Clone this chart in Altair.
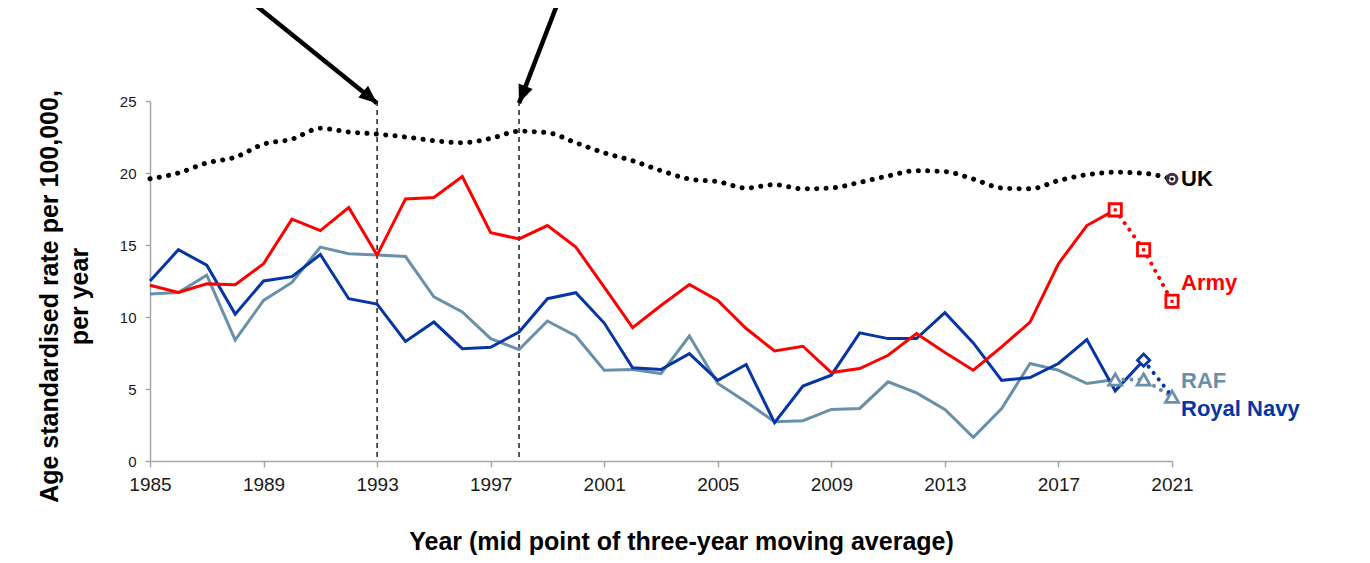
import altair as alt
import pandas as pd

# ---------------- data ----------------
years = list(range(1985, 2022))

army = [12.2, 11.7, 12.3, 12.24, 13.7, 16.8, 16.0, 17.6, 14.3, 18.2, 18.3, 19.75, 15.85,
        15.43, 16.35, 14.85, 12.08, 9.26, 10.8, 12.26, 11.15, 9.2, 7.64, 7.97, 6.14,
        6.42, 7.34, 8.85, 7.53, 6.3, 7.92, 9.65, 13.7, 16.35, 17.44, 14.67, 11.09]

navy = [12.5, 14.67, 13.6, 10.2, 12.5, 12.8, 14.34, 11.27, 10.9, 8.3, 9.65, 7.8, 7.9,
        8.96, 11.27, 11.69, 9.58, 6.47, 6.35, 7.46, 5.6, 6.7, 2.66, 5.2, 5.96,
        8.9, 8.5, 8.5, 10.3, 8.2, 5.6, 5.8, 6.77, 8.43, 4.87, 7.0, 4.5]

raf = [11.6, 11.7, 12.9, 8.4, 11.15, 12.4, 14.85, 14.4, 14.3, 14.2, 11.4, 10.35, 8.5,
       7.74, 9.72, 8.68, 6.3, 6.35, 6.07, 8.68, 5.38, 4.1, 2.73, 2.8, 3.58,
       3.65, 5.5, 4.73, 3.58, 1.64, 3.65, 6.77, 6.3, 5.38, 5.66, 5.66, 4.46]

uk = [19.6, 20.0, 20.7, 21.1, 22.0, 22.35, 23.1, 22.85, 22.7, 22.5, 22.25, 22.1, 22.4,
      22.9, 22.8, 22.1, 21.4, 20.85, 20.16, 19.58, 19.4, 18.96, 19.19, 18.9, 18.96,
      19.35, 19.8, 20.16, 20.1, 19.58, 18.96, 18.9, 19.47, 19.88, 20.05, 19.98, 19.58]

series_order = ["RAF", "Royal Navy", "Army"]
series_values = {"Army": army, "Royal Navy": navy, "RAF": raf}
series_colors = {"Army": "#ff0000", "Royal Navy": "#0636a6", "RAF": "#6990aa", "UK": "#000000"}
solid_end = {"Army": 2019, "Royal Navy": 2020, "RAF": 2019}
marker_years = {"Army": [2019, 2020, 2021], "Royal Navy": [2020], "RAF": [2019, 2020, 2021]}
marker_shapes = {"Army": "square", "Royal Navy": "diamond", "RAF": "triangle-up"}
marker_sizes = {"Army": 150, "Royal Navy": 150, "RAF": 170}

event_years = [1993, 1998]
arrow_tail_year = [1988.5, 1999.4]
arrow_tail_value = [32.0, 32.0]
arrow_tip_value = [24.85, 24.85]
arrow_angle = [129.5, 201.2]

label_text = ["UK", "Army", "RAF", "Royal Navy"]
label_value = [19.58, 12.36, 5.56, 3.6]
label_color = ["#000000", "#ff0000", "#6990aa", "#0636a6"]

x_ticks = list(range(1985, 2022, 4))
y_ticks = [0, 5, 10, 15, 20, 25]

FONT = "Liberation Sans, Arial, sans-serif"
AXIS_GREY = "#a6a6a6"

# ---------------- scales / axes ----------------
xs = alt.Scale(domain=[1985, 2021], nice=False, zero=False)
ys = alt.Scale(domain=[0, 25], nice=False, zero=True)

x_axis = alt.Axis(values=x_ticks, format="d", grid=False, tickSize=6, tickWidth=1.5,
                  tickColor=AXIS_GREY, domainColor=AXIS_GREY, domainWidth=1.5,
                  labelFont=FONT, labelFontSize=19, labelColor="#1a1a1a", labelPadding=8,
                  labelFlush=False,
                  titleFont=FONT, titleFontSize=25, titleFontWeight="bold", titleColor="#000000",
                  titleX=531, titleY=88, titleAlign="center", titleBaseline="alphabetic")
y_axis = alt.Axis(values=y_ticks, grid=False, tickSize=5, tickWidth=1.5,
                  tickColor=AXIS_GREY, domainColor=AXIS_GREY, domainWidth=1.5,
                  labelFont=FONT, labelFontSize=15, labelColor="#1a1a1a", labelPadding=9,
                  titleFont=FONT, titleFontSize=25, titleFontWeight="bold", titleColor="#000000",
                  titleAngle=270, titleX=-113, titleY=195, titleAlign="center",
                  titleBaseline="top", titleLineHeight=30)

X_TITLE = "Year (mid point of three-year moving average)"
Y_TITLE = ["Age standardised rate per 100,000,", "per year"]


def X(field):
    return alt.X(field, type="quantitative", scale=xs, axis=x_axis, title=X_TITLE)


def Y(field):
    return alt.Y(field, type="quantitative", scale=ys, axis=y_axis, title=Y_TITLE)


layers = []

# vertical dashed event lines
ev = pd.DataFrame({"year": event_years})
layers.append(alt.Chart(ev).mark_rule(color="#222222", strokeWidth=1.5, strokeDash=[5, 4])
              .encode(x=X("year")))

# solid series lines
for s in series_order:
    df = pd.DataFrame({"year": years, "value": series_values[s]})
    df = df[df["year"] <= solid_end[s]]
    layers.append(alt.Chart(df).mark_line(color=series_colors[s], strokeWidth=3,
                                           strokeJoin="miter")
                  .encode(x=X("year"), y=Y("value")))

# dotted extensions
for s in series_order:
    df = pd.DataFrame({"year": years, "value": series_values[s]})
    df = df[df["year"] >= solid_end[s]]
    layers.append(alt.Chart(df).mark_line(color=series_colors[s], strokeWidth=4,
                                           strokeDash=[0.1, 8], strokeCap="round")
                  .encode(x=X("year"), y=Y("value")))

# UK dotted smooth line
uk_df = pd.DataFrame({"year": years, "value": uk})
layers.append(alt.Chart(uk_df).mark_line(color="#000000", strokeWidth=5, strokeDash=[0.1, 9.3],
                                          strokeCap="round", interpolate="monotone")
              .encode(x=X("year"), y=Y("value")))

# markers
for s in series_order:
    df = pd.DataFrame({"year": years, "value": series_values[s]})
    df = df[df["year"].isin(marker_years[s])]
    layers.append(alt.Chart(df).mark_point(shape=marker_shapes[s], size=marker_sizes[s],
                                            filled=True, fill="white", stroke=series_colors[s],
                                            strokeWidth=2.8, opacity=1)
                  .encode(x=X("year"), y=Y("value")))
army_m = pd.DataFrame({"year": years, "value": army})
army_m = army_m[army_m["year"].isin(marker_years["Army"])]
layers.append(alt.Chart(army_m).mark_point(shape="square", size=10, filled=True,
                                            color=series_colors["Army"], opacity=1)
              .encode(x=X("year"), y=Y("value")))

uk_end = uk_df[uk_df["year"] == 2021]
layers.append(alt.Chart(uk_end).mark_point(shape="circle", size=95, filled=False,
                                            color="#4a2c45", strokeWidth=3, opacity=1)
              .encode(x=X("year"), y=Y("value")))
layers.append(alt.Chart(uk_end).mark_point(shape="circle", size=12, filled=True,
                                            color="#000000", opacity=1)
              .encode(x=X("year"), y=Y("value")))

# series labels
lab = pd.DataFrame({"text": label_text, "value": label_value, "color": label_color,
                    "year": [2021] * len(label_text)})
layers.append(alt.Chart(lab).mark_text(align="left", baseline="middle", dx=9, font=FONT,
                                        fontSize=22, fontWeight="bold")
              .encode(x=X("year"), y=Y("value"), text="text:N",
                      color=alt.Color("color:N", scale=None)))

# arrows
arr = pd.DataFrame({"x0": arrow_tail_year, "y0": arrow_tail_value,
                    "x1": event_years, "y1": arrow_tip_value, "angle": arrow_angle})
layers.append(alt.Chart(arr).mark_rule(color="#000000", strokeWidth=4.5)
              .encode(x=X("x0"), y=Y("y0"), x2="x1:Q", y2="y1:Q"))
layers.append(alt.Chart(arr).mark_point(shape="M0,0L-0.42,1L0.42,1Z", size=1300, filled=True,
                                         color="#000000", opacity=1)
              .encode(x=X("x1"), y=Y("y1"), angle=alt.Angle("angle:Q", scale=None)))

chart = alt.layer(*layers).properties(
    width=1022, height=360,
    autosize=alt.AutoSizeParams(type="none"),
    padding={"left": 142, "top": 93, "right": 190, "bottom": 94},
    background="white",
).configure_view(stroke=None)

chart.save("out.html", embed_options={"renderer": "svg", "actions": False})
